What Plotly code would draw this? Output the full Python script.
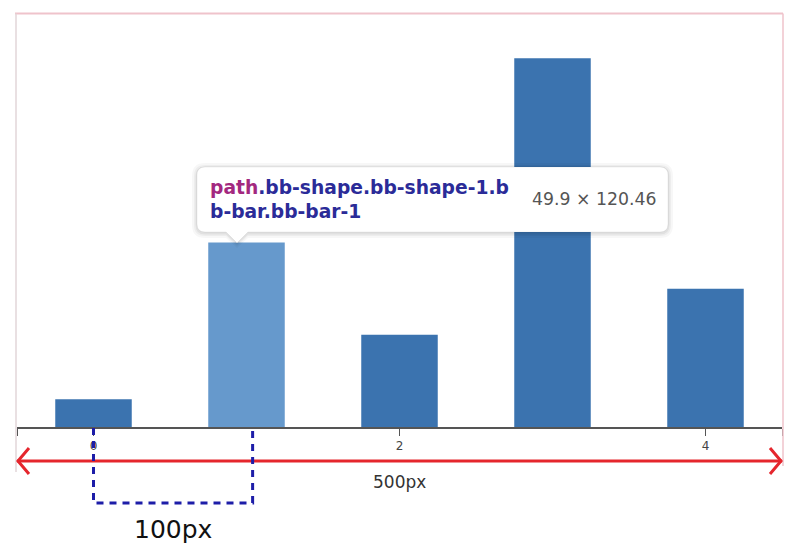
import plotly.graph_objects as go

# ---- data ----
categories = [0, 1, 2, 3, 4]
values = [30, 200, 100, 400, 150]
bar_colors = ["#3b73af", "#6699cc", "#3b73af", "#3b73af", "#3b73af"]
tick_vals = [-0.5, 0, 2, 4, 4.5]
tick_text = ["", "0", "2", "4", ""]

W, H = 800, 558
OFF = 8  # page body margin
L, T = 17 - OFF, 13 - OFF
R = W - (782 - OFF)
B = H - (427 - OFF)
PW = W - L - R
PH = H - T - B


def px(x):
    return (x - OFF - L) / PW


def py(y):
    return (H - B - (y - OFF)) / PH


fig = go.Figure()
fig.add_trace(go.Bar(
    x=categories, y=values, width=0.5,
    marker=dict(color=bar_colors, line=dict(width=0)),
    hoverinfo="skip",
))

shapes = []
# pink outline frame
frame = "#efc3cb"
shapes.append(dict(type="line", xref="paper", yref="paper", x0=px(15), x1=px(783), y0=py(13.5), y1=py(13.5),
                   line=dict(color=frame, width=2)))
shapes.append(dict(type="line", xref="paper", yref="paper", x0=px(16), x1=px(16), y0=py(13.5), y1=py(472),
                   line=dict(color="#e2d6d8", width=1.5)))
shapes.append(dict(type="line", xref="paper", yref="paper", x0=px(783), x1=px(783), y0=py(13.5), y1=py(466),
                   line=dict(color=frame, width=1.5)))


def rounded_path(x0, y0, x1, y1, r, pointer=None):
    rx, ry = r / PW, r / PH
    X0, X1 = px(x0), px(x1)
    Y0, Y1 = py(y0), py(y1)
    p = f"M {X0+rx},{Y0} L {X1-rx},{Y0} Q {X1},{Y0} {X1},{Y0-ry} L {X1},{Y1+ry} Q {X1},{Y1} {X1-rx},{Y1} "
    if pointer is not None:
        cx, tip = pointer
        p += f"L {px(cx+11)},{Y1} L {px(cx)},{py(tip)} L {px(cx-11)},{Y1} "
    p += f"L {X0+rx},{Y1} Q {X0},{Y1} {X0},{Y1+ry} L {X0},{Y0-ry} Q {X0},{Y0} {X0+rx},{Y0} Z"
    return p


# tooltip box (shadow + rounded white box + pointer)
for d, a in [(5, 0.03), (3, 0.04), (1.5, 0.05)]:
    shapes.append(dict(type="path", xref="paper", yref="paper",
                       path=rounded_path(197 - d, 167 - d + 1, 668 + d, 232 + d + 1, 8 + d, pointer=(237, 243 + d)),
                       fillcolor=f"rgba(0,0,0,{a})", line=dict(width=0)))
shapes.append(dict(type="path", xref="paper", yref="paper",
                   path=rounded_path(197, 167, 668, 232, 8, pointer=(237, 243)),
                   fillcolor="white", line=dict(color="rgba(0,0,0,0.06)", width=1)))

# red double arrow (500px)
red = "#e5262d"
ay = py(461)
shapes.append(dict(type="line", xref="x", yref="paper", x0=-0.5, x1=4.5, y0=ay, y1=ay,
                   line=dict(color=red, width=3)))
shapes.append(dict(type="path", xref="paper", yref="paper",
                   path=f"M {px(29)},{py(448)} L {px(18)},{ay} L {px(29)},{py(474)}",
                   line=dict(color=red, width=3)))
shapes.append(dict(type="path", xref="paper", yref="paper",
                   path=f"M {px(770)},{py(448)} L {px(781)},{ay} L {px(770)},{py(474)}",
                   line=dict(color=red, width=3)))

# blue dashed bracket (100px)
blue = "#1d1da8"
shapes.append(dict(type="path", xref="x", yref="paper",
                   path=f"M 0,{py(428)} L 0,{py(503)} L 1.04,{py(503)} L 1.04,{py(428)}",
                   line=dict(color=blue, width=3, dash="7px,6px")))

fig.update_layout(shapes=shapes)

annotations = [
    dict(xref="paper", yref="paper", x=px(208), y=py(199), xanchor="left", yanchor="middle", align="left",
         text="<b><span style='color:#a3287f'>path</span><span style='color:#2b2b98'>.bb-shape.bb-shape-1.b</span>"
              "<br><span style='color:#2b2b98'>b-bar.bb-bar-1</span></b>",
         showarrow=False, font=dict(family="DejaVu Sans, sans-serif", size=18.7, color="#2b2b98")),
    dict(xref="paper", yref="paper", x=px(530), y=py(199), xanchor="left", yanchor="middle",
         text="49.9 × 120.46", showarrow=False,
         font=dict(family="DejaVu Sans, sans-serif", size=17.3, color="#555555")),
    dict(xref="x", yref="paper", x=2, y=py(482), xanchor="center", yanchor="middle",
         text="500px", showarrow=False, font=dict(family="DejaVu Sans, sans-serif", size=17, color="#333333")),
    dict(xref="paper", yref="paper", x=px(173), y=py(529), xanchor="center", yanchor="middle",
         text="100px", showarrow=False, font=dict(family="DejaVu Sans, sans-serif", size=25, color="#111111")),
]

fig.update_layout(
    width=W, height=H,
    margin=dict(l=L, r=R, t=T, b=B, pad=0),
    paper_bgcolor="white", plot_bgcolor="white",
    showlegend=False,
    annotations=annotations,
    xaxis=dict(range=[-0.5, 4.5], tickmode="array", tickvals=tick_vals, ticktext=tick_text,
               showgrid=False, zeroline=False, showline=True, linecolor="#555555", linewidth=2,
               ticks="outside", ticklen=7, tickcolor="#555555", tickwidth=1,
               tickfont=dict(family="DejaVu Sans, sans-serif", size=12, color="#444444")),
    yaxis=dict(range=[0, 449], visible=False, showgrid=False, zeroline=False),
)

fig.write_html("out.html")
